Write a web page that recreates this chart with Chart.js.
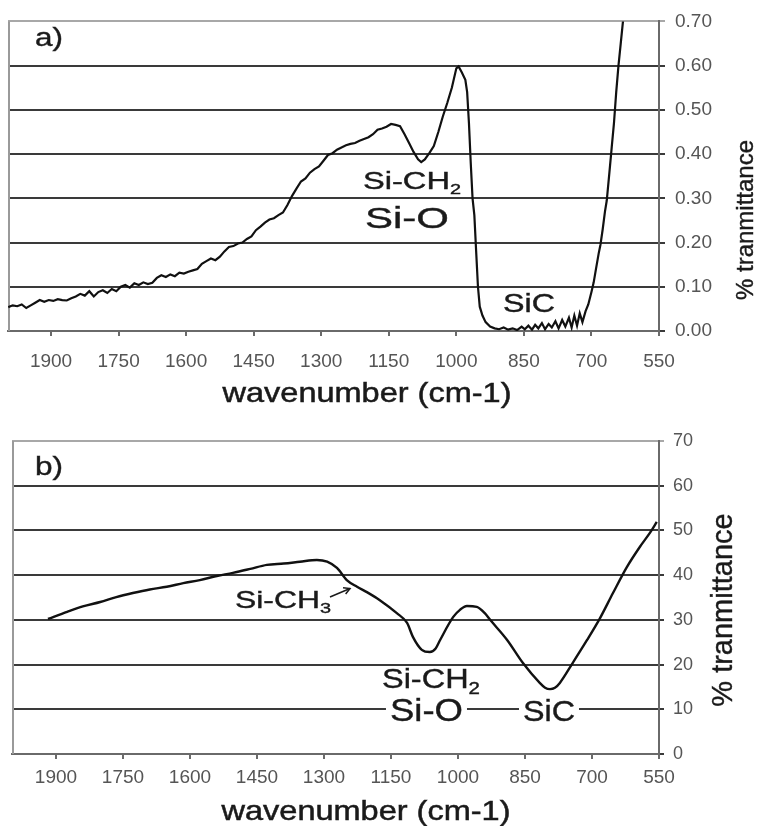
<!DOCTYPE html>
<html>
<head>
<meta charset="utf-8">
<script src="https://cdn.jsdelivr.net/npm/chart.js@4.4.1/dist/chart.umd.min.js"></script>
<style>
  html, body { margin: 0; padding: 0; background: #ffffff; }
  #wrapA { position: absolute; left: 0; top: 0; width: 763px; height: 415px; }
  #wrapB { position: absolute; left: 0; top: 415px; width: 763px; height: 411px; }
</style>
</head>
<body>
<div id="wrapA"><canvas id="chartA" width="763" height="415"></canvas></div>
<div id="wrapB"><canvas id="chartB" width="763" height="411"></canvas></div>
<script>
// ---------------- DATA ----------------
// Panel a) wavenumber (cm-1) and transmittance
const waveA = [1995,1985,1975,1965,1955,1945,1935,1925,1915,1905,1895,1885,1875,1865,1855,1845,1835,1825,1815,1805,
  1795,1785,1775,1765,1755,1745,1735,1725,1715,1705,1695,1685,1675,1665,1655,1645,1635,1625,1615,1605,
  1595,1585,1575,1565,1555,1545,1535,1525,1515,1505,1495,1485,1475,1465,1455,1445,1435,1425,1415,1405,
  1395,1385,1375,1365,1355,1345,1335,1325,1315,1305,1295,1285,1275,1265,1255,1245,1235,1225,1215,1205,
  1195,1185,1175,1165,1155,1145,1135,1125,1115,1105,1095,1085,1078,1070,1060,1050,1040,1030,1020,1010,
  1000,995,988,980,976,972,968,964,960,956,952,948,942,935,925,915,905,895,885,875,
  865,855,848,840,832,825,818,810,803,795,788,780,773,765,758,750,744,738,732,726,
  720,713,707,700,695,690,684,680,675,670,666,660,655,650,645,640,635,630,626];
const transA = [0.054,0.058,0.056,0.060,0.052,0.058,0.064,0.070,0.066,0.070,0.068,0.072,0.070,0.069,0.074,0.078,0.084,0.080,0.090,0.078,
  0.088,0.092,0.086,0.095,0.090,0.100,0.104,0.098,0.108,0.104,0.110,0.106,0.109,0.120,0.126,0.122,0.128,0.124,0.132,0.130,
  0.134,0.137,0.140,0.152,0.158,0.164,0.160,0.168,0.180,0.190,0.192,0.198,0.200,0.208,0.214,0.228,0.236,0.245,0.252,0.255,
  0.262,0.268,0.285,0.305,0.322,0.338,0.345,0.358,0.366,0.372,0.385,0.398,0.402,0.410,0.415,0.420,0.423,0.425,0.430,0.434,
  0.438,0.445,0.455,0.458,0.462,0.468,0.466,0.463,0.445,0.425,0.405,0.388,0.382,0.388,0.402,0.418,0.450,0.485,0.516,0.550,
  0.594,0.598,0.585,0.568,0.540,0.470,0.380,0.300,0.262,0.180,0.100,0.055,0.035,0.020,0.010,0.006,0.004,0.008,0.003,0.006,
  0.002,0.010,0.004,0.012,0.003,0.014,0.006,0.018,0.004,0.016,0.008,0.022,0.006,0.025,0.010,0.030,0.008,0.035,0.012,0.040,
  0.020,0.045,0.060,0.088,0.110,0.140,0.175,0.195,0.230,0.270,0.295,0.360,0.415,0.470,0.540,0.600,0.650,0.700,0.740];

// Panel b) wavenumber (cm-1) and % transmittance
const waveB = [1918,1875,1840,1801,1765,1728,1690,1652,1615,1578,1540,1504,1465,1428,1390,1354,1316,1293,1271,1249,
  1226,1204,1175,1137,1114,1101,1081,1063,1050,1040,1011,995,980,958,940,928,890,855,817,805,
  794,783,772,743,711,682,653,622,593,570,555];
const transB = [30.2,31.8,33.0,34.0,35.1,36.0,36.8,37.4,38.2,38.9,39.8,40.5,41.4,42.3,42.6,43.0,43.4,43.0,41.6,38.9,
  37.4,36.2,34.4,31.5,29.3,26.2,23.3,22.8,23.6,25.5,30.6,32.3,33.1,32.9,31.5,30.0,25.5,20.4,15.9,14.8,
  14.5,14.8,15.9,20.4,25.5,30.4,36.0,41.8,46.3,49.5,51.9];

// Tick labels
const xTickValues = [1900,1750,1600,1450,1300,1150,1000,850,700,550];
const yTicksA = [0,0.1,0.2,0.3,0.4,0.5,0.6,0.7];
const yTicksB = [0,10,20,30,40,50,60,70];

// Texts
const xTitle = 'wavenumber (cm-1)';
const yTitle = '% tranmittance';
const panelLabels = ['a)', 'b)'];
const bandLabelsA = ['Si-CH₂', 'Si-O', 'SiC'];
const bandLabelsB = ['Si-CH₃', 'Si-CH₂', 'Si-O', 'SiC'];

// ---------------- RENDER ----------------
const FONT = '"Liberation Sans", Arial, Helvetica, sans-serif';
Chart.defaults.font.family = FONT;

function splitSub(s) {
  const subs = {'₂':'2','₃':'3'};
  const last = s[s.length - 1];
  if (subs[last]) return [{t: s.slice(0, -1), sub: false}, {t: subs[last], sub: true}];
  return [{t: s, sub: false}];
}

function drawStretched(ctx, text, x, baseline, targetW, size, bg) {
  const parts = splitSub(text);
  const subSize = Math.round(size * 0.62);
  let natural = 0;
  parts.forEach(p => {
    ctx.font = (p.sub ? subSize : size) + 'px ' + FONT;
    p.w = ctx.measureText(p.t).width;
    natural += p.w;
  });
  const sx = targetW / natural;
  if (bg) {
    ctx.save();
    ctx.fillStyle = '#ffffff';
    ctx.fillRect(x - 4, baseline - size * 0.78, targetW + 8, size * 0.95);
    ctx.restore();
  }
  ctx.save();
  ctx.translate(x, baseline);
  ctx.scale(sx, 1);
  ctx.fillStyle = '#1a1a1a';
  ctx.strokeStyle = '#1a1a1a';
  ctx.lineWidth = 0.4;
  ctx.textBaseline = 'alphabetic';
  ctx.textAlign = 'left';
  let cx = 0;
  parts.forEach(p => {
    ctx.font = (p.sub ? subSize : size) + 'px ' + FONT;
    ctx.fillText(p.t, cx, p.sub ? size * 0.22 : 0);
    ctx.strokeText(p.t, cx, p.sub ? size * 0.22 : 0);
    cx += p.w;
  });
  ctx.restore();
}

const annotPlugin = {
  id: 'annot',
  beforeDatasetsDraw(chart, args, opts) {
    const ctx = chart.ctx, a = chart.chartArea;
    ctx.save();
    ctx.strokeStyle = '#9a9a9a';
    ctx.lineWidth = 2;
    ctx.beginPath();
    ctx.moveTo(a.left + 1, a.top);
    ctx.lineTo(a.left + 1, a.bottom);
    ctx.stroke();
    ctx.restore();
  },
  afterDraw(chart, args, opts) {
    const ctx = chart.ctx, xs = chart.scales.x, ys = chart.scales.y;
    (opts.texts || []).forEach(t => {
      drawStretched(ctx, t.text, xs.getPixelForValue(t.x), ys.getPixelForValue(t.y), t.w, t.size, t.bg);
    });
    (opts.arrows || []).forEach(ar => {
      const x1 = xs.getPixelForValue(ar.x1), y1 = ys.getPixelForValue(ar.y1);
      const x2 = xs.getPixelForValue(ar.x2), y2 = ys.getPixelForValue(ar.y2);
      ctx.save();
      ctx.strokeStyle = '#1a1a1a';
      ctx.lineWidth = 1.5;
      ctx.beginPath(); ctx.moveTo(x1, y1); ctx.lineTo(x2, y2); ctx.stroke();
      const ang = Math.atan2(y2 - y1, x2 - x1), L = 7;
      ctx.beginPath();
      ctx.moveTo(x2 - L * Math.cos(ang - 0.5), y2 - L * Math.sin(ang - 0.5));
      ctx.lineTo(x2, y2);
      ctx.lineTo(x2 - L * Math.cos(ang + 0.5), y2 - L * Math.sin(ang + 0.5));
      ctx.stroke();
      ctx.restore();
    });
    // x axis title
    const xt = opts.xTitle;
    ctx.save();
    ctx.font = xt.size + 'px ' + FONT;
    const nw = ctx.measureText(xTitle).width;
    ctx.translate(xt.cx, xt.cy);
    ctx.scale(xt.w / nw, 1);
    ctx.fillStyle = '#1a1a1a';
    ctx.strokeStyle = '#1a1a1a';
    ctx.lineWidth = 0.5;
    ctx.textAlign = 'center';
    ctx.textBaseline = 'middle';
    ctx.fillText(xTitle, 0, 0);
    ctx.strokeText(xTitle, 0, 0);
    ctx.restore();
    // y axis title (reads bottom to top)
    const yt = opts.yTitle;
    ctx.save();
    ctx.font = yt.size + 'px ' + FONT;
    ctx.translate(yt.cx, yt.cy);
    ctx.rotate(-Math.PI / 2);
    ctx.fillStyle = '#1a1a1a';
    ctx.strokeStyle = '#1a1a1a';
    ctx.lineWidth = 0.4;
    ctx.textAlign = 'center';
    ctx.textBaseline = 'middle';
    ctx.fillText(yTitle, 0, 0);
    ctx.strokeText(yTitle, 0, 0);
    ctx.restore();
  }
};

function makeChart(id, cfg) {
  const pts = cfg.wave.map((w, i) => ({x: w, y: cfg.trans[i]}));
  return new Chart(document.getElementById(id), {
    type: 'line',
    data: { datasets: [{
      data: pts,
      borderColor: '#111111',
      borderWidth: cfg.lineW,
      pointRadius: 0,
      tension: cfg.tension,
      cubicInterpolationMode: cfg.tension ? 'monotone' : 'default',
      fill: false
    }]},
    options: {
      responsive: false,
      animation: false,
      devicePixelRatio: 1,
      layout: { padding: { left: cfg.padLeft, top: cfg.padTop, right: 0, bottom: 0 } },
      plugins: {
        legend: { display: false },
        tooltip: { enabled: false },
        annot: cfg.annot
      },
      scales: {
        x: {
          type: 'linear',
          reverse: true,
          min: cfg.xMin, max: cfg.xMax,
          afterBuildTicks: s => { s.ticks = xTickValues.map(v => ({ value: v })); },
          afterFit: s => { s.height = cfg.xAxisH; },
          grid: { drawOnChartArea: false, drawTicks: true, tickLength: 5, color: '#6a6a6a', lineWidth: 2 },
          border: { display: true, color: '#6a6a6a', width: 2 },
          ticks: { autoSkip: false, maxRotation: 0, color: '#555555', padding: cfg.xTickPad,
                   font: { size: cfg.xTickSize }, callback: v => String(v) }
        },
        y: {
          position: 'right',
          min: cfg.yTicks[0], max: cfg.yTicks[cfg.yTicks.length - 1],
          afterBuildTicks: s => { s.ticks = cfg.yTicks.map(v => ({ value: v })); },
          afterFit: s => { s.width = 104; },
          grid: {
            color: c => (c.tick && c.tick.value === cfg.yTicks[cfg.yTicks.length - 1]) ? '#a8a8a8' : '#3a3a3a',
            lineWidth: 2, tickLength: cfg.yTickLen, drawTicks: true
          },
          border: { display: true, color: '#6a6a6a', width: 2 },
          ticks: { color: '#555555', padding: cfg.yTickPad, font: { size: cfg.yTickSize },
                   callback: cfg.yFmt }
        }
      }
    },
    plugins: [annotPlugin]
  });
}

makeChart('chartA', {
  wave: waveA, trans: transA, lineW: 2.2, tension: 0,
  padLeft: 8, padTop: 20, xAxisH: 84, xMin: 550, xMax: 1995.5,
  xTickPad: 14, xTickSize: 19, yTicks: yTicksA, yTickLen: 6, yTickPad: 10, yTickSize: 19,
  yFmt: v => Number(v).toFixed(2),
  annot: {
    texts: [
      { text: panelLabels[0], x: 1935.6, y: 0.645, w: 28, size: 26 },
      { text: bandLabelsA[0], x: 1207.3, y: 0.322, w: 98, size: 23 },
      { text: bandLabelsA[1], x: 1202.9, y: 0.234, w: 84, size: 29 },
      { text: bandLabelsA[2], x: 896.5, y: 0.043, w: 52, size: 26 }
    ],
    xTitle: { cx: 367, cy: 394, size: 28, w: 289 },
    yTitle: { cx: 746, cy: 220, size: 24 }
  }
});

makeChart('chartB', {
  wave: waveB, trans: transB, lineW: 2.4, tension: 0.4,
  padLeft: 12, padTop: 26, xAxisH: 72, xMin: 550, xMax: 1998.5,
  xTickPad: 7, xTickSize: 19, yTicks: yTicksB, yTickLen: 5, yTickPad: 9, yTickSize: 18,
  yFmt: v => String(v),
  annot: {
    texts: [
      { text: panelLabels[1], x: 1947, y: 62.4, w: 28, size: 26 },
      { text: bandLabelsB[0], x: 1499.3, y: 32.7, w: 96, size: 24 },
      { text: bandLabelsB[1], x: 1170.2, y: 14.8, w: 98, size: 27 },
      { text: bandLabelsB[2], x: 1152.3, y: 7.4, w: 73, size: 31, bg: true },
      { text: bandLabelsB[3], x: 854.5, y: 7.4, w: 52, size: 30, bg: true }
    ],
    arrows: [ { x1: 1286.6, y1: 35.1, x2: 1241.8, y2: 37.0 } ],
    xTitle: { cx: 366, cy: 397, size: 28, w: 289 },
    yTitle: { cx: 724, cy: 195, size: 29 }
  }
});
</script>
</body>
</html>
